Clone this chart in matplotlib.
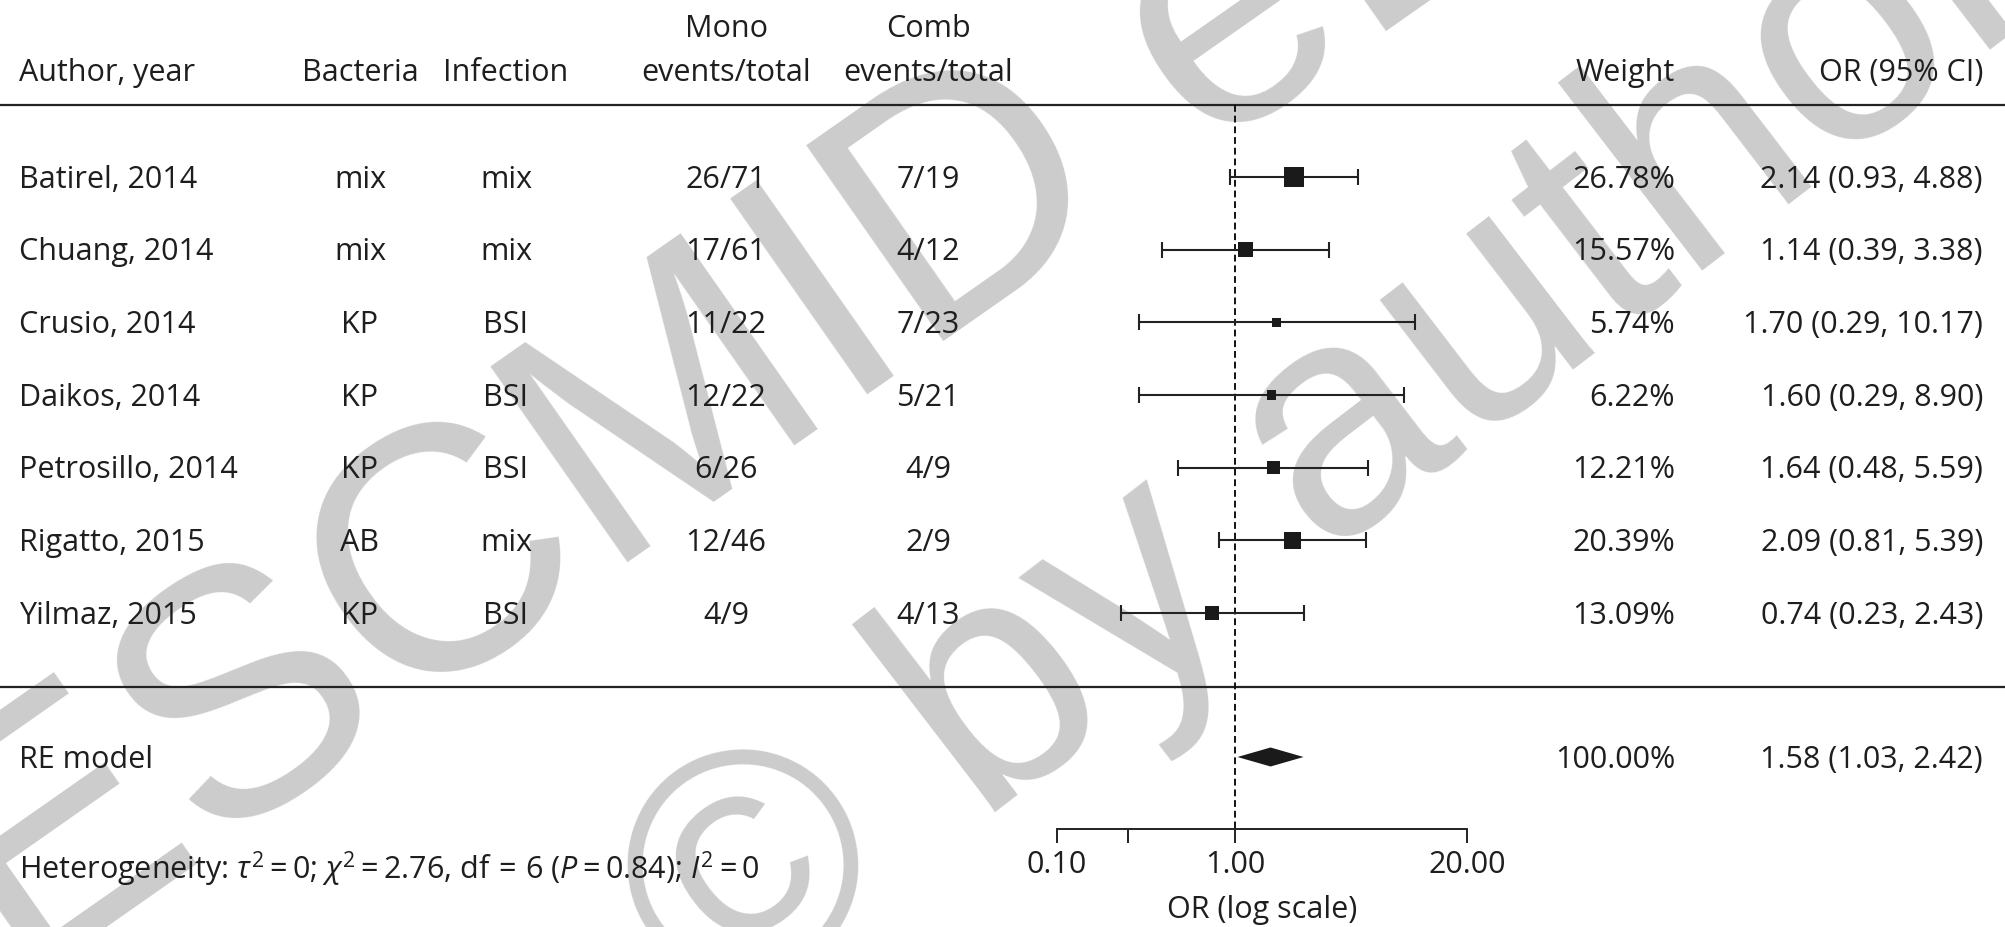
import matplotlib
matplotlib.use('Agg')
import matplotlib.pyplot as plt
from matplotlib import transforms
from matplotlib.ticker import NullLocator
import numpy as np

# ---------------- data ----------------
authors = ["Batirel, 2014", "Chuang, 2014", "Crusio, 2014", "Daikos, 2014",
           "Petrosillo, 2014", "Rigatto, 2015", "Yilmaz, 2015"]
bacteria = ["mix", "mix", "KP", "KP", "KP", "AB", "KP"]
infection = ["mix", "mix", "BSI", "BSI", "BSI", "mix", "BSI"]
mono = ["26/71", "17/61", "11/22", "12/22", "6/26", "12/46", "4/9"]
comb = ["7/19", "4/12", "7/23", "5/21", "4/9", "2/9", "4/13"]
weights = [26.78, 15.57, 5.74, 6.22, 12.21, 20.39, 13.09]
or_est = [2.14, 1.14, 1.70, 1.60, 1.64, 2.09, 0.74]
ci_low = [0.93, 0.39, 0.29, 0.29, 0.48, 0.81, 0.23]
ci_high = [4.88, 3.38, 10.17, 8.90, 5.59, 5.39, 2.43]

re_label = "RE model"
re_weight = 100.00
re_or, re_low, re_high = 1.58, 1.03, 2.42

heterogeneity = (r"Heterogeneity: $\tau^2 = 0$; $\chi^2 = 2.76$, "
                 r"df$\,=\,$6 ($P = 0.84$); $I^2 = 0$")
xticks = [0.10, 0.25, 1.00, 20.00]
xticklabels = ["0.10", "", "1.00", "20.00"]
xlabel = "OR (log scale)"
headers_top = ["Mono", "Comb"]
headers = ["Author, year", "Bacteria", "Infection", "events/total",
           "events/total", "Weight", "OR (95% CI)"]
watermarks = ["ESCMID eLibrary", "\u00a9 by author"]

# ---------------- style ----------------
FONT = 'Open Sans'
FS = 22
plt.rcParams['font.family'] = [FONT, 'DejaVu Sans']
plt.rcParams['mathtext.fontset'] = 'custom'
plt.rcParams['mathtext.rm'] = FONT
plt.rcParams['mathtext.it'] = FONT + ':italic'
TXT = '#1e1e1e'

PX_W, PX_H = 2005, 927
ROW0, ROWH = 177.0, 72.67


def row_of(px):
    return (px - ROW0) / ROWH


def fx(px):
    return px / PX_W


fig = plt.figure(figsize=(PX_W / 100, PX_H / 100), dpi=100)
fig.patch.set_facecolor('white')

# watermark (behind everything)
fig.text(fx(20), 1 - 988 / PX_H, watermarks[0], rotation=35, rotation_mode='anchor',
         ha='left', va='baseline', fontsize=250, color='#cccccc',
         family='Liberation Sans', zorder=-5)
fig.text(fx(717), 1 - 1027 / PX_H, watermarks[1], rotation=37.5, rotation_mode='anchor',
         ha='left', va='baseline', fontsize=235, color='#cccccc',
         family='Liberation Sans', zorder=-5)

ax = fig.add_axes([fx(1057), 0, fx(410), 1])
ax.patch.set_visible(False)
ax.set_xscale('log')
ax.set_xlim(0.1, 20)
ax.set_ylim(row_of(PX_H), row_of(0))

rows = np.arange(len(authors))
y_re = row_of(757)
y_head_line = row_of(105)
y_sep = row_of(687)
y_axis = row_of(829)
y_het = row_of(869)
y_h2 = row_of(70)
y_h1 = row_of(26)
base = 10.5 / ROWH  # baseline offset so digits centre on row

tr = transforms.blended_transform_factory(fig.transFigure, ax.transData)

# horizontal rules across whole figure
for yy in (y_head_line, y_sep):
    ax.plot([0, 1], [yy, yy], transform=tr, color='#222222', lw=1.6,
            clip_on=False)

# reference line at OR = 1
ax.vlines(1.0, y_head_line, y_axis, colors='#111111', linestyles=(0, (3.5, 2)),
          lw=1.4)

# CIs and squares
ax.errorbar(or_est, rows,
            xerr=[np.array(or_est) - np.array(ci_low),
                  np.array(ci_high) - np.array(or_est)],
            fmt='none', ecolor='#222222', elinewidth=1.5, capsize=5.5,
            capthick=1.5, zorder=2)
ax.scatter(or_est, rows, s=np.array(weights) * 7.1, marker='s',
           color='#1a1a1a', zorder=3, linewidths=0)

# summary diamond
h = 9.5 / ROWH
ax.fill([re_low, re_or, re_high, re_or], [y_re, y_re - h, y_re, y_re + h],
        color='#1a1a1a', lw=0, zorder=3)

# x axis
for s in ('top', 'left', 'right'):
    ax.spines[s].set_visible(False)
ax.spines['bottom'].set_position(('data', y_axis))
ax.spines['bottom'].set_bounds(xticks[0], xticks[-1])
ax.spines['bottom'].set_linewidth(1.4)
ax.spines['bottom'].set_color('#222222')
ax.set_xticks(xticks)
ax.set_xticklabels(xticklabels)
ax.xaxis.set_minor_locator(NullLocator())
ax.tick_params(axis='x', direction='out', length=10, width=1.4, color='#222222',
               labelsize=FS, labelcolor=TXT, pad=5)
ax.set_yticks([])
ax.set_xlabel(xlabel, fontsize=FS, color=TXT, labelpad=11)

# table columns
col_author = fx(19)
col_bact = fx(360)
col_inf = fx(506)
col_mono = fx(726)
col_comb = fx(928)
col_w = fx(1675)
col_or = fx(1983)

kw = dict(transform=tr, fontsize=FS, color=TXT, va='baseline', clip_on=False)

# headers
ax.text(col_mono, y_h1 + base, headers_top[0], ha='center', **kw)
ax.text(col_comb, y_h1 + base, headers_top[1], ha='center', **kw)
ax.text(col_author, y_h2 + base, headers[0], ha='left', **kw)
ax.text(col_bact, y_h2 + base, headers[1], ha='center', **kw)
ax.text(col_inf, y_h2 + base, headers[2], ha='center', **kw)
ax.text(col_mono, y_h2 + base, headers[3], ha='center', **kw)
ax.text(col_comb, y_h2 + base, headers[4], ha='center', **kw)
ax.text(col_w, y_h2 + base, headers[5], ha='right', **kw)
ax.text(col_or, y_h2 + base, headers[6], ha='right', **kw)

for i, r in enumerate(rows):
    yb = r + base
    ax.text(col_author, yb, authors[i], ha='left', **kw)
    ax.text(col_bact, yb, bacteria[i], ha='center', **kw)
    ax.text(col_inf, yb, infection[i], ha='center', **kw)
    ax.text(col_mono, yb, mono[i], ha='center', **kw)
    ax.text(col_comb, yb, comb[i], ha='center', **kw)
    ax.text(col_w, yb, f"{weights[i]:.2f}%", ha='right', **kw)
    ax.text(col_or, yb, f"{or_est[i]:.2f} ({ci_low[i]:.2f}, {ci_high[i]:.2f})",
            ha='right', **kw)

ax.text(col_author, y_re + base, re_label, ha='left', **kw)
ax.text(col_w, y_re + base, f"{re_weight:.2f}%", ha='right', **kw)
ax.text(col_or, y_re + base, f"{re_or:.2f} ({re_low:.2f}, {re_high:.2f})",
        ha='right', **kw)
ax.text(col_author, y_het + base, heterogeneity, ha='left', **kw)

fig.savefig('out.png', dpi=100, facecolor='white')
